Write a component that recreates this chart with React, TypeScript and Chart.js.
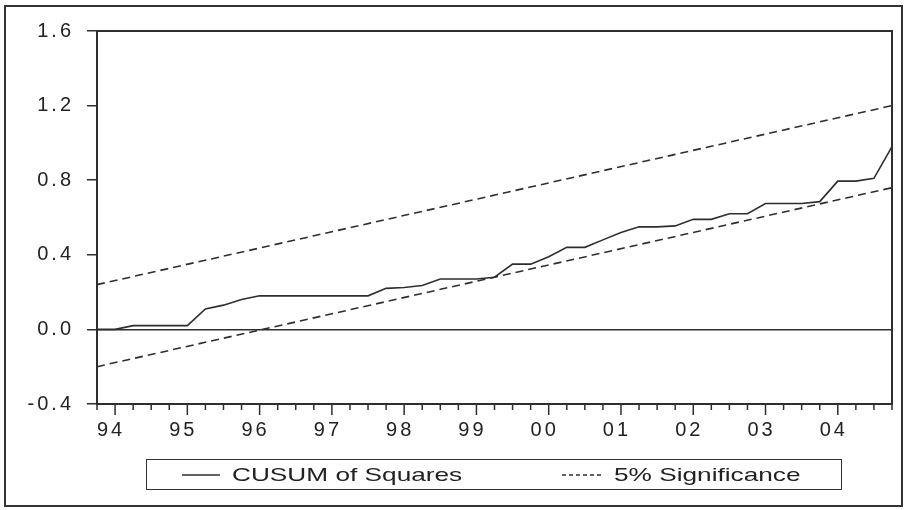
import React, { useEffect, useRef } from 'react';
import { Chart, registerables } from 'chart.js';

Chart.register(...registerables);

// Quarterly observations, 1993Q4 .. 2004Q4
const quarters = [
  '1993Q4',
  '1994Q1', '1994Q2', '1994Q3', '1994Q4',
  '1995Q1', '1995Q2', '1995Q3', '1995Q4',
  '1996Q1', '1996Q2', '1996Q3', '1996Q4',
  '1997Q1', '1997Q2', '1997Q3', '1997Q4',
  '1998Q1', '1998Q2', '1998Q3', '1998Q4',
  '1999Q1', '1999Q2', '1999Q3', '1999Q4',
  '2000Q1', '2000Q2', '2000Q3', '2000Q4',
  '2001Q1', '2001Q2', '2001Q3', '2001Q4',
  '2002Q1', '2002Q2', '2002Q3', '2002Q4',
  '2003Q1', '2003Q2', '2003Q3', '2003Q4',
  '2004Q1', '2004Q2', '2004Q3', '2004Q4',
];

const yearTickLabels = ['94', '95', '96', '97', '98', '99', '00', '01', '02', '03', '04'];

const cusumSquares = [
  0.0,
  0.0, 0.02, 0.02, 0.02,
  0.02, 0.11, 0.13, 0.16,
  0.18, 0.18, 0.18, 0.18,
  0.18, 0.18, 0.18, 0.22,
  0.225, 0.235, 0.27, 0.27,
  0.27, 0.28, 0.35, 0.35,
  0.39, 0.44, 0.44, 0.48,
  0.52, 0.55, 0.55, 0.555,
  0.59, 0.59, 0.62, 0.62,
  0.675, 0.675, 0.675, 0.685,
  0.795, 0.795, 0.81, 0.98,
];

// 5% significance bands (straight lines: first and last observation)
const upperBand = [0.24, 1.2];
const lowerBand = [-0.2, 0.76];

const yTickValues = [-0.4, 0.0, 0.4, 0.8, 1.2, 1.6];

const FONT = '"Liberation Sans", Arial, Helvetica, sans-serif';
const INK = '#2e2e2e';

const wideText = {
  id: 'wideText',
  beforeDraw(chart: any) {
    try { (chart.ctx as any).letterSpacing = '3px'; } catch (e) { /* ignore */ }
  },
  afterDraw(chart: any) {
    try { (chart.ctx as any).letterSpacing = '0px'; } catch (e) { /* ignore */ }
  },
};

const frameAndTicks = {
  id: 'frameAndTicks',
  afterDraw(chart: any) {
    const { ctx, chartArea, scales } = chart;
    const x = scales.x;
    ctx.save();
    ctx.strokeStyle = INK;
    ctx.lineWidth = 1.5;
    quarters.forEach((q, i) => {
      const px = x.getPixelForValue(i);
      const major = q.endsWith('Q1');
      ctx.beginPath();
      ctx.moveTo(px, chartArea.bottom);
      ctx.lineTo(px, chartArea.bottom + (major ? 11 : 6));
      ctx.stroke();
    });
    ctx.lineWidth = 2;
    ctx.beginPath();
    ctx.moveTo(chartArea.left, chartArea.top);
    ctx.lineTo(chartArea.right, chartArea.top);
    ctx.lineTo(chartArea.right, chartArea.bottom);
    ctx.stroke();
    ctx.restore();
  },
};

export default function App() {
  const canvasRef = useRef<HTMLCanvasElement | null>(null);

  useEffect(() => {
    if (!canvasRef.current) return;
    Chart.defaults.font.family = FONT;
    const first = quarters[0];
    const last = quarters[quarters.length - 1];
    const chart = new Chart(canvasRef.current, {
      type: 'line',
      data: {
        labels: quarters,
        datasets: [
          {
            label: 'CUSUM of Squares',
            data: cusumSquares,
            borderColor: INK,
            borderWidth: 1.6,
            pointRadius: 0,
            tension: 0,
            fill: false,
          },
          {
            label: '5% Significance',
            data: [
              { x: first, y: upperBand[0] },
              { x: last, y: upperBand[1] },
            ] as any,
            borderColor: INK,
            borderWidth: 1.6,
            borderDash: [8, 5],
            pointRadius: 0,
            fill: false,
          },
          {
            label: '5% Significance (lower)',
            data: [
              { x: first, y: lowerBand[0] },
              { x: last, y: lowerBand[1] },
            ] as any,
            borderColor: INK,
            borderWidth: 1.6,
            borderDash: [8, 5],
            pointRadius: 0,
            fill: false,
          },
        ],
      },
      options: {
        responsive: false,
        animation: false,
        layout: { padding: { top: 31, right: 13, bottom: 0, left: 0 } },
        plugins: {
          legend: { display: false },
          tooltip: { enabled: false },
        },
        scales: {
          x: {
            type: 'category',
            offset: false,
            border: { display: true, color: INK, width: 2 },
            grid: {
              display: true,
              drawOnChartArea: false,
              drawTicks: true,
              tickLength: 0,
              color: 'transparent',
            },
            ticks: {
              autoSkip: false,
              maxRotation: 0,
              minRotation: 0,
              padding: 14,
              labelOffset: -4,
              color: '#222',
              font: { size: 20, family: FONT },
              callback: (_v: any, index: number) => {
                const q = quarters[index];
                if (!q || !q.endsWith('Q1')) return '';
                const yi = (index - 1) / 4;
                return yearTickLabels[yi] ?? '';
              },
            },
            afterFit: (scale: any) => {
              scale.height = 106;
            },
          },
          y: {
            min: -0.4,
            max: 1.6,
            border: { display: true, color: INK, width: 2 },
            grid: {
              display: true,
              drawOnChartArea: true,
              drawTicks: true,
              tickLength: 10,
              tickColor: INK,
              tickWidth: 1.5,
              lineWidth: 1.5,
              color: (c: any) => (c.tick && Math.abs(c.tick.value) < 1e-9 ? INK : 'transparent'),
            },
            afterBuildTicks: (scale: any) => {
              scale.ticks = yTickValues.map((v) => ({ value: v }));
            },
            ticks: {
              padding: 13,
              color: '#222',
              font: { size: 20, family: FONT },
              callback: (v: any) => Number(v).toFixed(1),
            },
            afterFit: (scale: any) => {
              scale.width = 97;
            },
          },
        },
      },
      plugins: [wideText, frameAndTicks],
    });
    return () => chart.destroy();
  }, []);

  const wide: React.CSSProperties = {
    position: 'absolute', top: 1, lineHeight: '28px', whiteSpace: 'nowrap',
    transform: 'scaleX(1.38)', transformOrigin: 'left center',
  };

  return (
    <div style={{ position: 'absolute', left: 0, top: 0, width: 906, height: 510, background: '#fff', fontFamily: FONT }}>
      <canvas ref={canvasRef} width={906} height={510} style={{ position: 'absolute', left: 0, top: 0 }} />
      <div
        style={{
          position: 'absolute', left: 4, top: 5, width: 899, height: 502,
          border: '2px solid #333', boxSizing: 'border-box', pointerEvents: 'none',
        }}
      />
      <div
        style={{
          position: 'absolute', left: 146, top: 459, width: 696, height: 31,
          border: '1.5px solid #333', boxSizing: 'border-box', color: '#222', fontSize: 19,
        }}
      >
        <svg width={40} height={6} style={{ position: 'absolute', left: 35, top: 12 }}>
          <line x1={0} y1={3} x2={38} y2={3} stroke={INK} strokeWidth={1.5} />
        </svg>
        <span style={{ ...wide, left: 85 }}>CUSUM of Squares</span>
        <svg width={40} height={6} style={{ position: 'absolute', left: 415, top: 12 }}>
          <line x1={0} y1={3} x2={39} y2={3} stroke={INK} strokeWidth={1.5} strokeDasharray="4 3" />
        </svg>
        <span style={{ ...wide, left: 467 }}>5% Significance</span>
      </div>
    </div>
  );
}
